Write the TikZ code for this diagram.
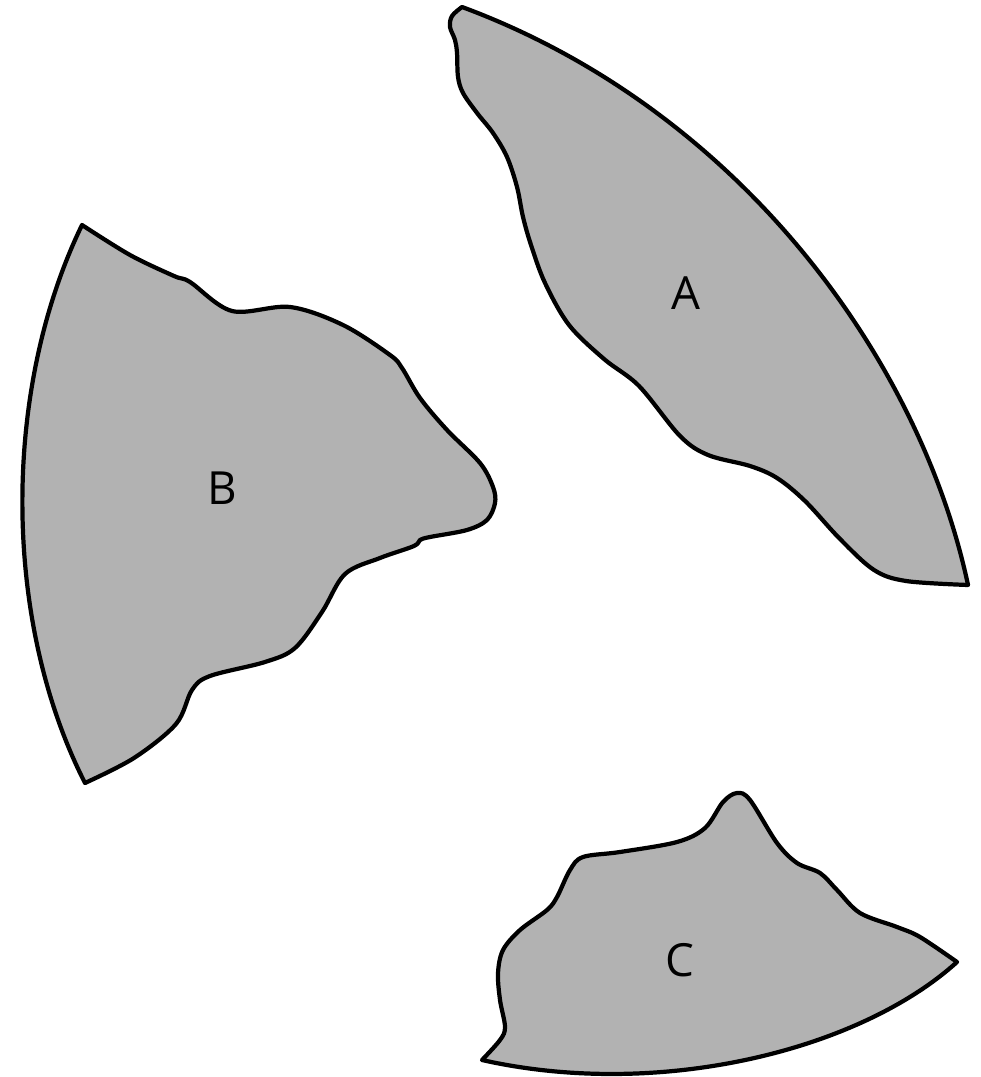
\documentclass[tikz,border=0pt]{standalone}
\usepackage{fontspec}
\setmainfont{Open Sans}
\usepackage{tikz}
\definecolor{ShardGrey}{HTML}{B2B2B2}

\begin{document}
\begin{tikzpicture}[
  x=0.1mm, y=-0.1mm,
  shard/.style={draw=black, fill=ShardGrey, line width=1.2pt, line join=round},
  tag/.style={font=\fontsize{13}{15}\selectfont, inner sep=0pt},
]
\useasboundingbox (0,0) rectangle (980,1077);

% Fragment A
\draw[shard] (462,7) .. controls (740,110) and (920,360) .. (968,585)
  -- plot[smooth, tension=0.55] coordinates {(968,585) (906,581) (874,570) (840,539) (805,501)
     (777,478) (750,466) (708,455) (680,436) (639,386) (604,359) (569,325) (545,283)
     (531,245) (523,217) (517,187) (507,157) (493,133) (477,113) (463,93) (458,77)
     (457,53) (455,40) (450,27) (452,16) (462,7)} -- cycle;

% Fragment B
\draw[shard] (82,225)
  -- plot[smooth, tension=0.55] coordinates {(82,225) (130,255) (174,276) (190,282) (232,311)
     (290,307) (343,325) (390,355) (402,368) (420,398) (447,430) (480,463) (493,487)
     (495,503) (487,520) (467,530) (430,537) (420,540) (414,546) (380,558) (345,574)
     (322,612) (295,648) (265,662) (210,676) (192,690) (176,724) (134,758) (85,783)}
  .. controls (2,620) and (2,390) .. cycle;

% Fragment C
\draw[shard] (957,962) .. controls (860,1050) and (660,1100) .. (482,1060)
  -- plot[smooth, tension=0.55] coordinates {(482,1060) (500,1040) (505,1027) (500,1000)
     (498,973) (503,950) (520,930) (547,910) (557,897) (570,870) (583,857) (620,852)
     (677,842) (705,828) (723,802) (737,793) (750,800) (777,843) (797,863) (820,873)
     (837,890) (860,913) (897,927) (920,937) (957,962)} -- cycle;

% Labels
\node[tag] (la) at (686,293) {A};
\node[tag] (lb) at (222,488) {B};
\node[tag] (lc) at (680,960) {C};

\end{tikzpicture}
\end{document}
